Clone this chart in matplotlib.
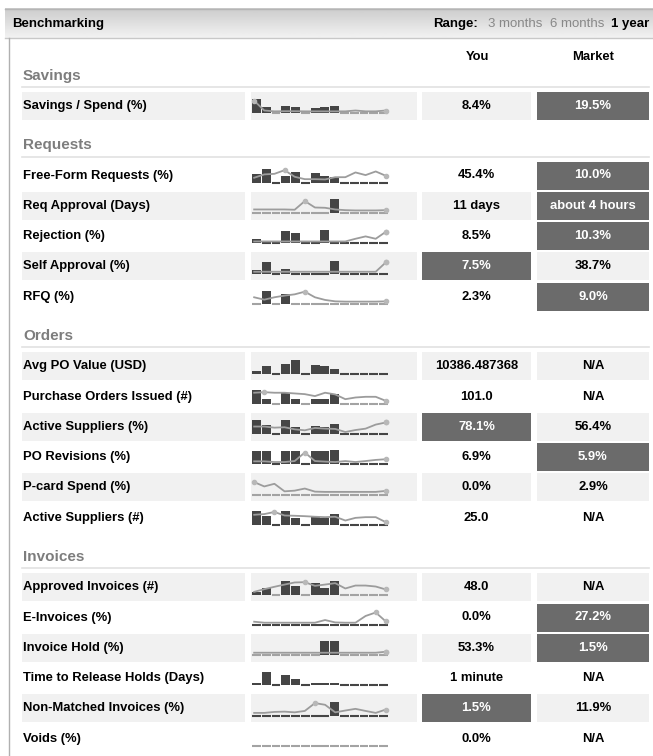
import numpy as np
import matplotlib
matplotlib.use("Agg")
import matplotlib.pyplot as plt
from matplotlib.patches import Rectangle

plt.rcParams['font.family'] = ['Liberation Sans', 'DejaVu Sans']

# ---- data -------------------------------------------------------------
sections = ["Savings", "Requests", "Orders", "Invoices"]
row_labels = [
    "Savings / Spend (%)",
    "Free-Form Requests (%)", "Req Approval (Days)", "Rejection (%)",
    "Self Approval (%)", "RFQ (%)",
    "Avg PO Value (USD)", "Purchase Orders Issued (#)", "Active Suppliers (%)",
    "PO Revisions (%)", "P-card Spend (%)", "Active Suppliers (#)",
    "Approved Invoices (#)", "E-Invoices (%)", "Invoice Hold (%)",
    "Time to Release Holds (Days)", "Non-Matched Invoices (%)", "Voids (%)",
]
row_section = [0, 1, 1, 1, 1, 1, 2, 2, 2, 2, 2, 2, 3, 3, 3, 3, 3, 3]
you_values = ["8.4%", "45.4%", "11 days", "8.5%", "7.5%", "2.3%",
              "10386.487368", "101.0", "78.1%", "6.9%", "0.0%", "25.0",
              "48.0", "0.0%", "53.3%", "1 minute", "1.5%", "0.0%"]
market_values = ["19.5%", "10.0%", "about 4 hours", "10.3%", "38.7%", "9.0%",
                 "N/A", "N/A", "56.4%", "5.9%", "2.9%", "N/A",
                 "N/A", "27.2%", "1.5%", "N/A", "11.9%", "N/A"]
# which cell is flagged dark
highlight = ["market", "market", "market", "market", "you", "market",
             "", "", "you", "market", "", "",
             "", "market", "market", "", "you", ""]

# monthly bars ("you"), 14 months, relative height 0-100
you_bars = [
    [100, 45, 0, 52, 45, 0, 36, 45, 52, 0, 0, 0, 0, 0],
    [64, 98, 0, 50, 74, 0, 67, 50, 40, 0, 0, 0, 0, 0],
    [0, 0, 0, 0, 0, 0, 0, 0, 98, 0, 0, 0, 0, 0],
    [33, 0, 0, 88, 74, 0, 0, 95, 0, 0, 0, 0, 0, 0],
    [29, 86, 0, 31, 0, 0, 0, 0, 93, 0, 0, 0, 0, 0],
    [0, 95, 0, 71, 0, 0, 0, 0, 0, 0, 0, 0, 0, 0],
    [20, 51, 0, 68, 100, 0, 59, 51, 29, 0, 0, 0, 0, 0],
    [98, 36, 0, 74, 36, 0, 36, 36, 69, 0, 0, 0, 0, 0],
    [98, 63, 0, 98, 51, 0, 59, 49, 73, 0, 0, 0, 0, 0],
    [98, 93, 0, 93, 93, 0, 93, 93, 100, 0, 0, 0, 0, 0],
    [0, 0, 0, 0, 0, 0, 0, 0, 0, 0, 0, 0, 0, 0],
    [98, 63, 0, 98, 51, 0, 59, 51, 76, 0, 0, 0, 0, 0],
    [19, 45, 0, 98, 60, 0, 83, 45, 93, 0, 0, 0, 0, 0],
    [0, 0, 0, 0, 0, 0, 0, 0, 0, 0, 0, 0, 0, 0],
    [0, 0, 0, 0, 0, 0, 0, 98, 98, 0, 0, 0, 0, 0],
    [15, 95, 0, 73, 46, 0, 15, 15, 15, 0, 0, 0, 0, 0],
    [0, 0, 0, 0, 0, 0, 0, 0, 100, 0, 0, 0, 0, 0],
    [0, 0, 0, 0, 0, 0, 0, 0, 0, 0, 0, 0, 0, 0],
]
# market trend line, same scale; None = no line
market_lines = [
    [90, 20, 14, 15, 15, 14, 14, 14, 14, 14, 20, 14, 14, 20],
    [36, 60, 64, 90, 43, 26, 26, 24, 40, 40, 74, 55, 81, 50],
    [26, 26, 26, 26, 24, 86, 40, 38, 26, 21, 19, 19, 19, 21],
    [14, 14, 14, 14, 14, 14, 14, 14, 14, 14, 33, 50, 33, 83],
    [14, 14, 14, 14, 14, 14, 14, 14, 14, 14, 14, 14, 14, 81],
    [48, 31, 48, 60, 69, 88, 48, 29, 19, 17, 17, 17, 17, 19],
    None,
    [79, 83, 79, 79, 74, 69, 55, 79, 67, 33, 45, 50, 50, 21],
    [54, 54, 46, 49, 34, 27, 44, 39, 37, 15, 29, 39, 68, 83],
    [22, 22, 17, 17, 24, 85, 24, 20, 17, 24, 17, 24, 32, 37],
    [90, 59, 78, 24, 29, 44, 22, 20, 20, 20, 20, 20, 20, 27],
    [73, 78, 93, 68, 66, 63, 59, 56, 59, 32, 51, 56, 56, 20],
    [19, 38, 55, 71, 86, 88, 62, 71, 81, 43, 64, 64, 57, 36],
    [22, 15, 15, 15, 15, 15, 15, 34, 17, 15, 15, 63, 88, 24],
    [17, 17, 17, 17, 17, 17, 17, 17, 17, 17, 17, 17, 17, 24],
    None,
    [20, 20, 27, 29, 24, 34, 90, 78, 24, 37, 49, 34, 20, 44],
    None,
]

# ---- styles -----------------------------------------------------------
W, H = 653, 756
LIGHT = "#f1f1f1"
DARK = "#6b6b6b"
BAR = "#454545"
LINE = "#9c9c9c"
# tone of the empty-month dashes per row
dash_tone = ["#a3a3a3", BAR, "#a3a3a3", BAR, BAR, "#a3a3a3",
             BAR, "#a3a3a3", BAR, BAR, "#a3a3a3", BAR,
             "#a3a3a3", BAR, "#a3a3a3", BAR, BAR, "#a3a3a3"]
FS = 9.4

fig = plt.figure(figsize=(W / 100, H / 100), dpi=100)
ax = fig.add_axes([0, 0, 1, 1])
ax.set_xlim(0, W)
ax.set_ylim(H, 0)
ax.axis("off")

# header bar with gradient
grad = np.linspace(0.80, 0.95, 50).reshape(-1, 1)
ax.imshow(grad, cmap="gray", vmin=0, vmax=1, aspect="auto",
          extent=(5, W, 38, 8), zorder=0)
ax.plot([5, W], [38, 38], color="#c8c8c8", lw=1)
ax.plot([5, W], [8.5, 8.5], color="#b5b5b5", lw=1)
ax.plot([9, 9], [38, H], color="#b0b0b0", lw=1)

ax.text(12, 24, "Benchmarking", fontsize=9.5, fontweight="bold", va="center")
ax.text(433, 24, "Range:", fontsize=9.5, fontweight="bold", va="center")
ax.text(488, 24, "3 months", fontsize=9.5, color="#888888", va="center")
ax.text(550, 24, "6 months", fontsize=9.5, color="#888888", va="center")
ax.text(611, 24, "1 year", fontsize=9.5, fontweight="bold", va="center")

ax.text(477, 57, "You", fontsize=FS, fontweight="bold", ha="center", va="center")
ax.text(593, 57, "Market", fontsize=FS, fontweight="bold", ha="center", va="center")

cells = [(22, 245), (251, 417), (422, 531), (537, 649)]
spark_x0, spark_x1 = 252, 388
pitch = 30.3
sec_gap = 69.5

y = 106
prev_sec = 0
for i, label in enumerate(row_labels):
    sec = row_section[i]
    if i > 0:
        y += sec_gap if sec != prev_sec else pitch
    if i == 0 or sec != prev_sec:
        ax.text(23, y - 30, sections[sec], fontsize=11, fontweight="bold",
                color="#7d7d7d", va="center")
        ax.plot([22, 649], [y - 19, y - 19], color="#e2e2e2", lw=1.2)
    prev_sec = sec

    shaded = i % 2 == 0
    for j, (cx0, cx1) in enumerate(cells):
        col = None
        if (j == 2 and highlight[i] == "you") or (j == 3 and highlight[i] == "market"):
            col = DARK
        elif shaded:
            col = LIGHT
        if col:
            ax.add_patch(Rectangle((cx0, y - 14), cx1 - cx0, 28, color=col, lw=0))

    ax.text(23, y, label, fontsize=FS, fontweight="bold", va="center")
    ax.text(476.5, y, you_values[i], fontsize=FS, fontweight="bold",
            ha="center", va="center",
            color="white" if highlight[i] == "you" else "black")
    ax.text(593, y, market_values[i], fontsize=FS, fontweight="bold",
            ha="center", va="center",
            color="white" if highlight[i] == "market" else "black")

    # sparkline
    base = y + 7.3
    sax = fig.add_axes([spark_x0 / W, 1 - base / H,
                        (spark_x1 - spark_x0) / W, 14 / H])
    sax.set_xlim(-0.45, 13.45)
    sax.set_ylim(0, 100)
    sax.axis("off")
    months = np.arange(14)
    bars = np.array(you_bars[i])
    sax.bar(months, bars, width=0.9, color=BAR, lw=0)
    empty = months[bars == 0]
    sax.hlines(np.zeros(len(empty)), empty - 0.45, empty + 0.45,
               color=dash_tone[i], lw=1.5, clip_on=False)
    if market_lines[i] is not None:
        mv = np.array(market_lines[i])
        lx = np.linspace(-0.23, 13.23, 14)
        sax.plot(lx, mv, color=LINE, lw=1.3, clip_on=False, zorder=3)
        k = int(np.argmax(mv))
        sax.plot([lx[k], lx[-1]], [mv[k], mv[-1]], "o", ms=3,
                 color="#b8b8b8", clip_on=False, zorder=4)

fig.savefig("out.png", dpi=100)
